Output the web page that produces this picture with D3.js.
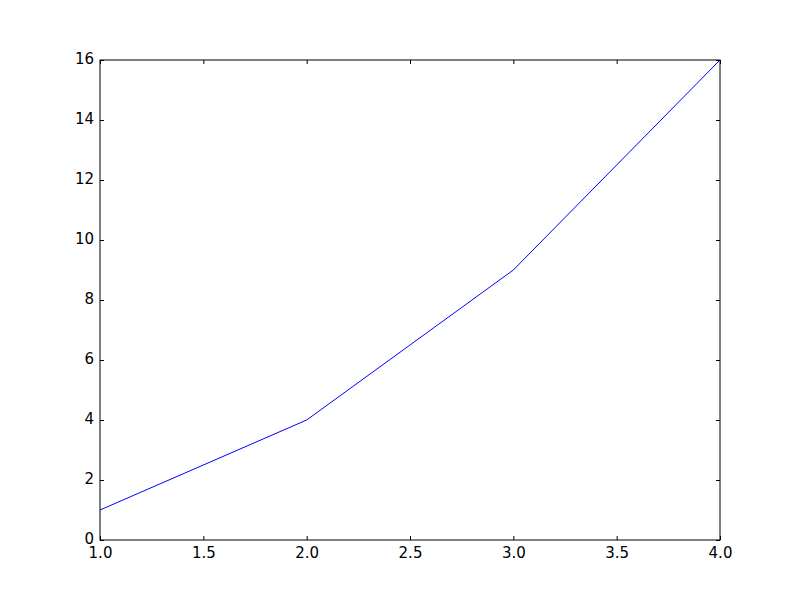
<!DOCTYPE html>
<html>
<head>
<meta charset="utf-8">
<script src="https://cdn.jsdelivr.net/npm/d3@7"></script>
<style>
  body { margin: 0; background: #fff; }
  svg text { font-family: "DejaVu Sans", sans-serif; font-size: 15px; fill: #000; }
</style>
</head>
<body>
<div id="chart"></div>
<script>
// data
var xValues = [1, 2, 3, 4];
var yValues = [1, 4, 9, 16];
var xTicks = [1.0, 1.5, 2.0, 2.5, 3.0, 3.5, 4.0];
var yTicks = [0, 2, 4, 6, 8, 10, 12, 14, 16];

var margin = { top: 60, right: 80, bottom: 60, left: 100 };
var width = 800 - margin.left - margin.right,
    height = 600 - margin.top - margin.bottom;

var svg = d3.select('#chart')
    .append('svg')
    .attr('width', 800)
    .attr('height', 600)
    .append('g')
    .attr('transform', 'translate(' + margin.left + ',' + margin.top + ')');

var x = d3.scaleLinear().domain([1, 4]).range([0, width]);
var y = d3.scaleLinear().domain([0, 16]).range([height, 0]);

// ticks point inward on all four sides
function styleAxis(g) {
    g.select('.domain').remove();
    g.selectAll('line').attr('stroke', '#000').attr('stroke-width', 1);
    g.attr('font-size', null).attr('font-family', null);
}

svg.append('g')
    .attr('transform', 'translate(0,' + height + ')')
    .call(d3.axisBottom(x).tickValues(xTicks).tickFormat(d3.format('.1f')).tickSizeInner(-4).tickSizeOuter(0).tickPadding(7))
    .call(styleAxis);

svg.append('g')
    .call(d3.axisTop(x).tickValues(xTicks).tickFormat('').tickSizeInner(-4).tickSizeOuter(0))
    .call(styleAxis);

svg.append('g')
    .call(d3.axisLeft(y).tickValues(yTicks).tickFormat(d3.format('d')).tickSizeInner(-4).tickSizeOuter(0).tickPadding(6))
    .call(styleAxis)
    .selectAll('text').attr('dy', '0.2em');

svg.append('g')
    .attr('transform', 'translate(' + width + ',0)')
    .call(d3.axisRight(y).tickValues(yTicks).tickFormat('').tickSizeInner(-4).tickSizeOuter(0))
    .call(styleAxis);

// line
var points = xValues.map(function(d, i) { return { x: d, y: yValues[i] }; });
var line = d3.line()
    .x(function(d) { return x(d.x); })
    .y(function(d) { return y(d.y); });

svg.append('path')
    .datum(points)
    .attr('fill', 'none')
    .attr('stroke', '#0000ff')
    .attr('stroke-width', 1)
    .attr('d', line);

// frame
svg.append('rect')
    .attr('x', 0)
    .attr('y', 0)
    .attr('width', width)
    .attr('height', height)
    .attr('fill', 'none')
    .attr('stroke', '#000')
    .attr('stroke-width', 1);
</script>
</body>
</html>
